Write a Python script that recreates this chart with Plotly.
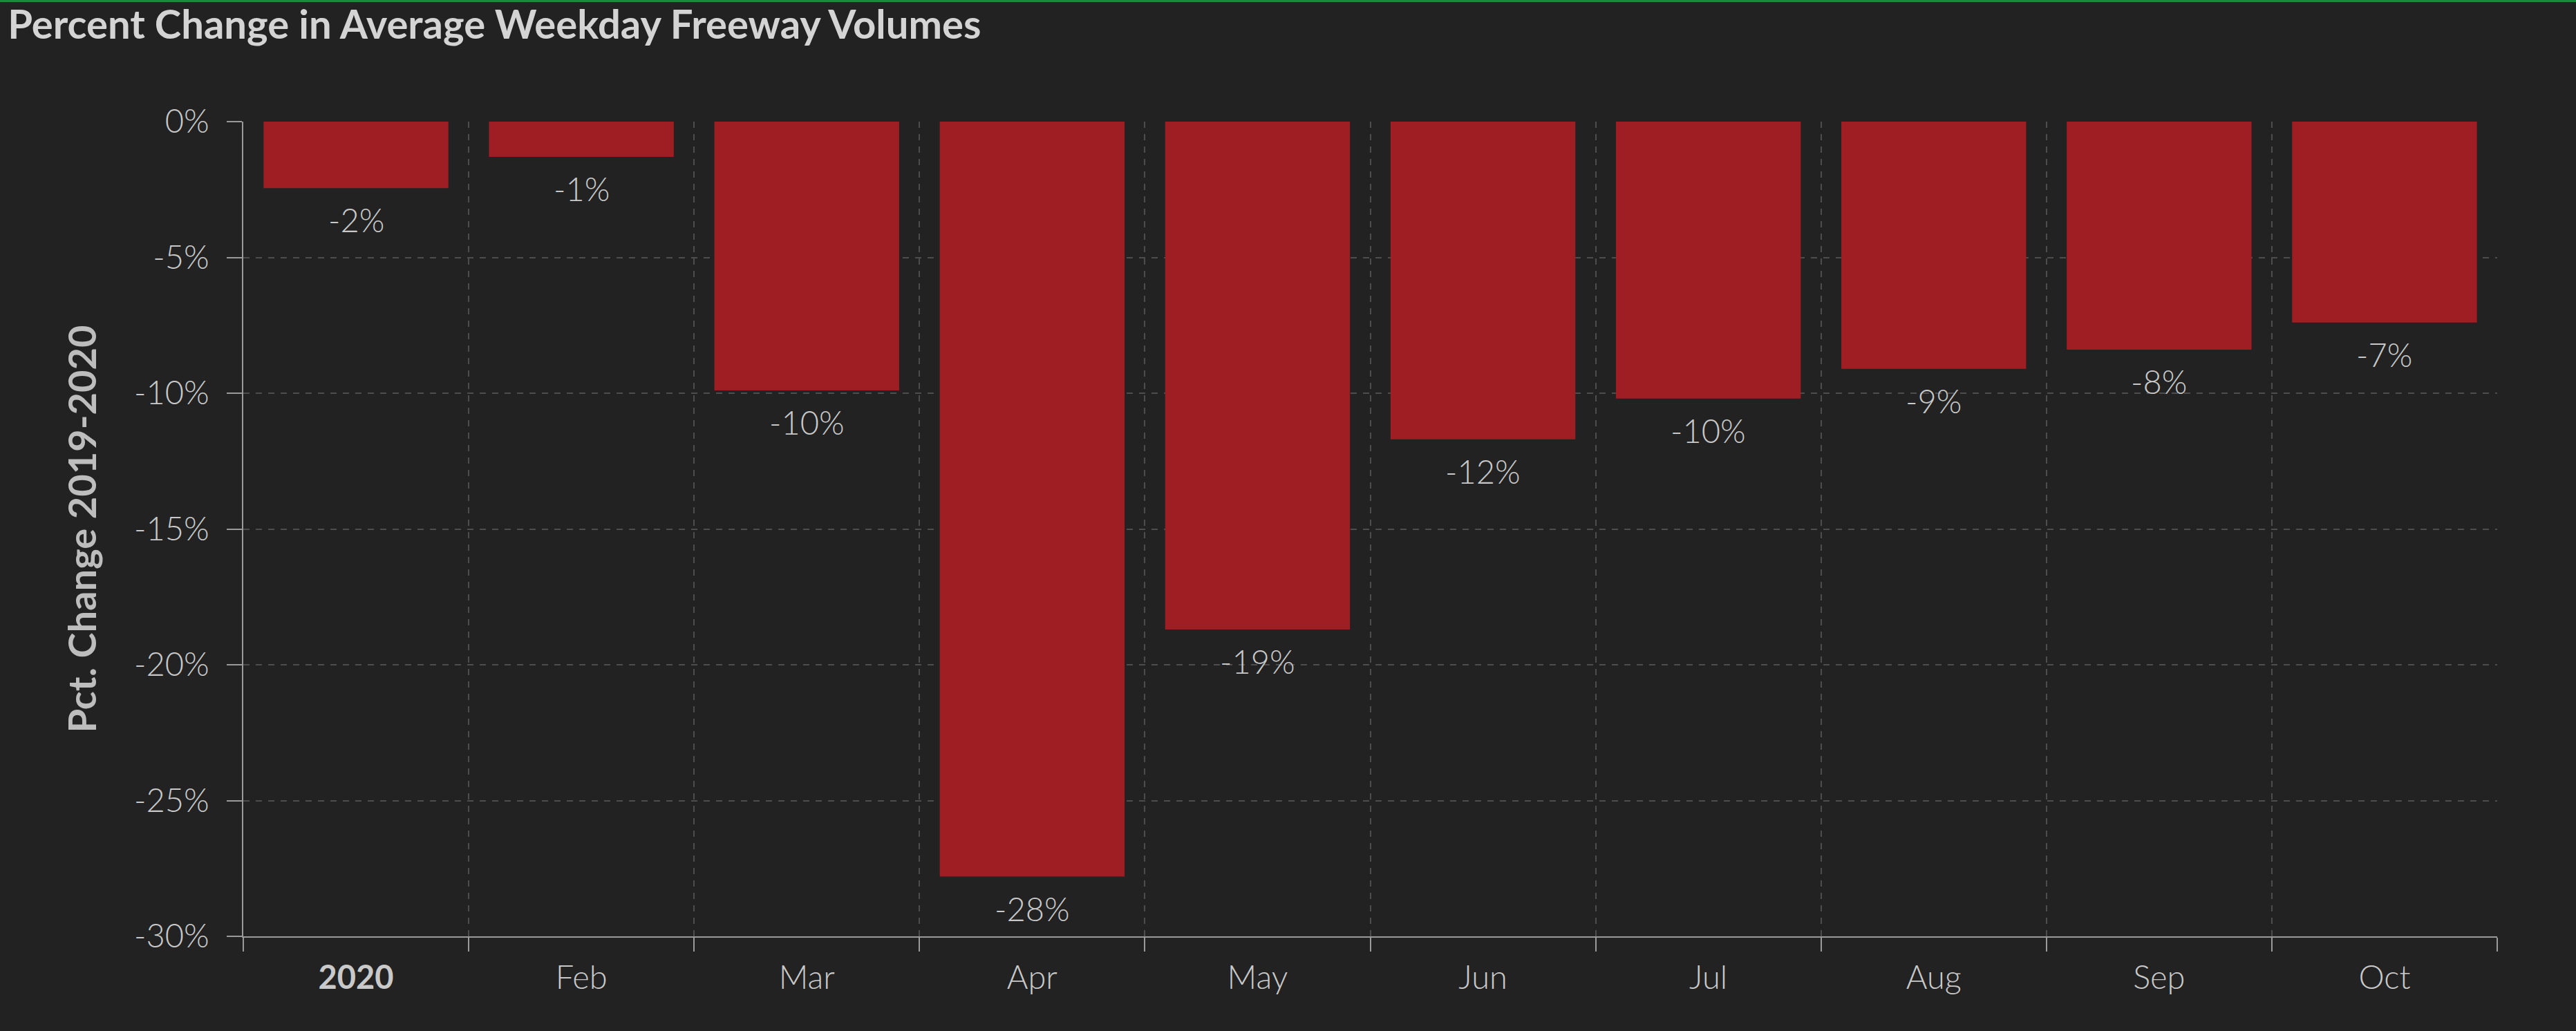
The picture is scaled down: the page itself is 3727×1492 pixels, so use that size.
import plotly.graph_objects as go

# ---- data ----
months = ["Jan", "Feb", "Mar", "Apr", "May", "Jun", "Jul", "Aug", "Sep", "Oct"]
tick_labels = ["<b>2020</b>", "Feb", "Mar", "Apr", "May", "Jun", "Jul", "Aug", "Sep", "Oct"]
pct_change = [-2.45, -1.3, -9.9, -27.8, -18.7, -11.7, -10.2, -9.1, -8.4, -7.4]
value_labels = ["-2%", "-1%", "-10%", "-28%", "-19%", "-12%", "-10%", "-9%", "-8%", "-7%"]
y_tick_vals = [0, -5, -10, -15, -20, -25, -30]
y_tick_text = ["0%", "-5%", "-10%", "-15%", "-20%", "-25%", "-30%"]

BG = "#222222"
BAR = "#9e1e23"
TXT = "#c9c9c9"
AXIS = "#9a9a9a"
GRID = "#4d4d4d"
FONT = "Lato"

W, H = 3727, 1492
ML, MR, MT, MB = 352, 114, 176, 137

fig = go.Figure()
fig.add_trace(go.Bar(
    x=months, y=pct_change, marker=dict(color=BAR, line=dict(width=0)),
    hoverinfo="skip",
))

for m, v, lab in zip(months, pct_change, value_labels):
    fig.add_annotation(x=m, y=v, text=lab, showarrow=False, yanchor="top",
                       yshift=-16, font=dict(family=FONT, size=47, color=TXT, weight=300))

plot_h = H - MT - MB
fig.add_shape(type="line", xref="paper", yref="paper", x0=-ML / (W - ML - MR),
              x1=1 + MR / (W - ML - MR), y0=1 + (MT - 1.5) / plot_h, y1=1 + (MT - 1.5) / plot_h,
              line=dict(color="#1f8a3a", width=3))

fig.update_layout(
    width=W, height=H,
    paper_bgcolor=BG, plot_bgcolor=BG,
    margin=dict(l=ML, r=MR, t=MT, b=MB),
    bargap=0.18,
    showlegend=False,
    font=dict(family=FONT, color=TXT),
    title=dict(text="<b>Percent Change in Average Weekday Freeway Volumes</b>",
               x=0.003, xanchor="left", y=1 - 36 / H, yanchor="middle",
               font=dict(family=FONT, size=58, color="#d4d4d4")),
    xaxis=dict(
        tickmode="array", tickvals=months, ticktext=tick_labels,
        tickson="boundaries", ticks="outside", ticklen=20, tickwidth=2, tickcolor=AXIS,
        showline=True, linecolor=AXIS, linewidth=2,
        showgrid=True, gridcolor=GRID, griddash="dash", gridwidth=2,
        tickfont=dict(family=FONT, size=47, color=TXT, weight=300),
        ticklabelstandoff=18,
    ),
    yaxis=dict(
        range=[-30, 0], tickmode="array", tickvals=y_tick_vals, ticktext=y_tick_text,
        ticks="outside", ticklen=22, tickwidth=2, tickcolor=AXIS,
        showline=True, linecolor=AXIS, linewidth=2, zeroline=False,
        showgrid=True, gridcolor=GRID, griddash="dash", gridwidth=2,
        tickfont=dict(family=FONT, size=47, color=TXT, weight=300),
        ticklabelstandoff=16,
        title=dict(text="<b>Pct. Change 2019-2020</b>", standoff=36,
                   font=dict(family=FONT, size=56, color="#bdbdbd")),
    ),
)

fig.write_html("out.html", config={"displayModeBar": False},
               post_script="document.body.style.margin='0';")
